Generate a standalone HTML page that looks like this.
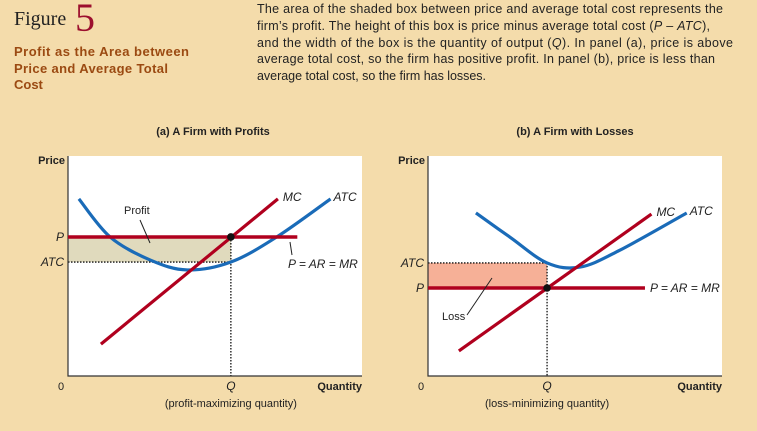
<!DOCTYPE html>
<html><head><meta charset="utf-8"><style>
html,body{margin:0;padding:0;background:#f4dcab;}
svg{display:block;font-family:"Liberation Sans",sans-serif;}
</style></head><body>
<svg id="fig" width="757" height="431" viewBox="0 0 757 431">
<rect width="757" height="431" fill="#f4dcab"/>
<text x="14" y="25" font-family="Liberation Serif,serif" font-size="20" fill="#222">Figure</text>
<text x="75" y="31" font-family="Liberation Serif,serif" font-size="40" fill="#9c0f2e">5</text>
<g font-size="13" font-weight="bold" fill="#9b4a12">
<text x="14" y="56" textLength="175">Profit as the Area between</text>
<text x="14" y="73" textLength="154">Price and Average Total</text>
<text x="14" y="89">Cost</text></g>
<g font-size="12.5" fill="#222">
<text x="257" y="13" textLength="466">The area of the shaded box between price and average total cost represents the</text>
<text x="257" y="30" textLength="453">firm’s profit. The height of this box is price minus average total cost (<tspan font-style="italic">P</tspan> – <tspan font-style="italic">ATC</tspan>),</text>
<text x="257" y="47" textLength="476">and the width of the box is the quantity of output (<tspan font-style="italic">Q</tspan>). In panel (a), price is above</text>
<text x="257" y="63" textLength="458">average total cost, so the firm has positive profit. In panel (b), price is less than</text>
<text x="257" y="80" textLength="229">average total cost, so the firm has losses.</text></g>
<g id="pa"></g><g id="pb"></g>
</svg>
<script>
// Panel (a) data
const aP = 6.32, aATClevel = 5.18, aQ = 5.54;
const aMCq = [1.12, 7.14], aMCp = [1.45, 8.05];
const aATCq = [0.37, 1.43, 2.8, 4.06, 5.54, 7.1, 8.93];
const aATCp = [8.05, 6.32, 5.27, 4.82, 5.18, 6.32, 8.05];
const aPriceLineEnd = 7.8;
// Panel (b) data
const bP = 4.0, bATClevel = 5.14, bQ = 4.05;
const bMCq = [1.05, 7.6], bMCp = [1.14, 7.36];
const bATCq = [1.63, 2.8, 4.05, 5.17, 6.5, 8.8];
const bATCp = [7.41, 6.3, 5.14, 4.95, 5.7, 7.41];
const bPriceLineEnd = 7.38;

const NS = "http://www.w3.org/2000/svg";
function mk(parent, tag, attrs, text){const e=document.createElementNS(NS,tag);for(const k in attrs)e.setAttribute(k,attrs[k]);if(text!==undefined)e.textContent=text;parent.appendChild(e);return e;}
function panel(g, ox, title, titleX, P, A, Q, mcq, mcp, atcq, atcp, pEnd, shade, sub, lbl){
  const X=q=>ox+q*29.4, Y=p=>376-p*22;
  let e;
  e=mk(g,'rect',{x:ox,y:156,width:294,height:220,fill:'#fff'});
  
  
  e=mk(g,'text',{x:titleX,y:135,'text-anchor':'middle','font-size':11,'font-weight':'bold',fill:'#222'},title);
  
  
  const top=Math.min(Y(P),Y(A)), h=Math.abs(Y(P)-Y(A));
  e=mk(g,'rect',{x:X(0),y:top,width:X(Q)-X(0),height:h,fill:shade});
  
  
  e=mk(g,'path',{d:`M${X(0)},${Y(A)}H${X(Q)}M${X(Q)},${top}V376`,stroke:'#111','stroke-width':1.3,'stroke-dasharray':'1.5,1.5',fill:'none'});
  
  
  e=mk(g,'path',{d:`M${ox},156V376H${ox+294}`,stroke:'#333','stroke-width':1.2,fill:'none'});
  
  
  // ATC curve via catmull-rom
  const pts=atcq.map((q,i)=>[X(q),Y(atcp[i])]);
  let d=`M${pts[0][0]},${pts[0][1]}`;
  for(let i=0;i<pts.length-1;i++){const p0=pts[i-1]||pts[i],p1=pts[i],p2=pts[i+1],p3=pts[i+2]||p2;
    d+=`C${p1[0]+(p2[0]-p0[0])/6},${p1[1]+(p2[1]-p0[1])/6} ${p2[0]-(p3[0]-p1[0])/6},${p2[1]-(p3[1]-p1[1])/6} ${p2[0]},${p2[1]}`;}
  e=mk(g,'path',{d,stroke:'#1a6bb8','stroke-width':3.2,fill:'none'});
  
  
  e=mk(g,'line',{x1:X(0),y1:Y(P),x2:X(pEnd),y2:Y(P),stroke:'#b0001e','stroke-width':3.5});
  
  
  e=mk(g,'line',{x1:X(mcq[0]),y1:Y(mcp[0]),x2:X(mcq[1]),y2:Y(mcp[1]),stroke:'#b0001e','stroke-width':3.2});
  
  
  e=mk(g,'circle',{cx:X(Q),cy:Y(P),r:3.8,fill:'#111'});
  
  
  const it={'font-size':12,'font-style':'italic',fill:'#222'};
  e=mk(g,'text',Object.assign({x:X(mcq[1])+5,y:Y(mcp[1])+2},it),'MC');
  
  
  e=mk(g,'text',Object.assign({x:X(atcq[atcq.length-1])+3,y:Y(atcp[atcp.length-1])+2},it),'ATC');
  
  
  e=mk(g,'text',Object.assign({x:ox-4,y:Y(P)+4,'text-anchor':'end'},it),'P');
  
  
  e=mk(g,'text',Object.assign({x:ox-4,y:Y(A)+4,'text-anchor':'end'},it),'ATC');
  
  
  e=mk(g,'text',Object.assign({x:X(Q),y:390,'text-anchor':'middle'},it),'Q');
  
  
  const b={'font-size':11,'font-weight':'bold',fill:'#222'};
  e=mk(g,'text',Object.assign({x:ox-3,y:164,'text-anchor':'end'},b),'Price');
  
  
  e=mk(g,'text',Object.assign({x:ox+294,y:390,'text-anchor':'end'},b),'Quantity');
  
  
  e=mk(g,'text',{x:ox-10,y:390,'font-size':11,fill:'#222'},'0');
  
  
  e=mk(g,'text',{x:X(Q),y:407,'text-anchor':'middle','font-size':11,fill:'#222'},sub);
  
  
  lbl(g,X,Y,it);
}
panel(document.getElementById('pa'),68,'(a) A Firm with Profits',213,aP,aATClevel,aQ,aMCq,aMCp,aATCq,aATCp,aPriceLineEnd,'#e0dabd','(profit-maximizing quantity)',(g,X,Y,it)=>{
  let e=mk(g,'text',{x:124,y:214,'font-size':11,fill:'#222'},'Profit');
  
  
  e=mk(g,'line',{x1:140,y1:220,x2:150,y2:243,stroke:'#222','stroke-width':1});
  
  
  e=mk(g,'line',{x1:290,y1:242,x2:292,y2:255,stroke:'#222','stroke-width':1});
  
  
  e=mk(g,'text',Object.assign({x:288,y:268},it),'P = AR = MR');
  
  
});
panel(document.getElementById('pb'),428,'(b) A Firm with Losses',575,bP,bATClevel,bQ,bMCq,bMCp,bATCq,bATCp,bPriceLineEnd,'#f6b097','(loss-minimizing quantity)',(g,X,Y,it)=>{
  let e=mk(g,'text',{x:442,y:320,'font-size':11,fill:'#222'},'Loss');
  
  
  e=mk(g,'line',{x1:467,y1:315,x2:492,y2:278,stroke:'#222','stroke-width':1});
  
  
  e=mk(g,'text',Object.assign({x:650,y:292},it),'P = AR = MR');
  
  
});
</script>
</body></html>
